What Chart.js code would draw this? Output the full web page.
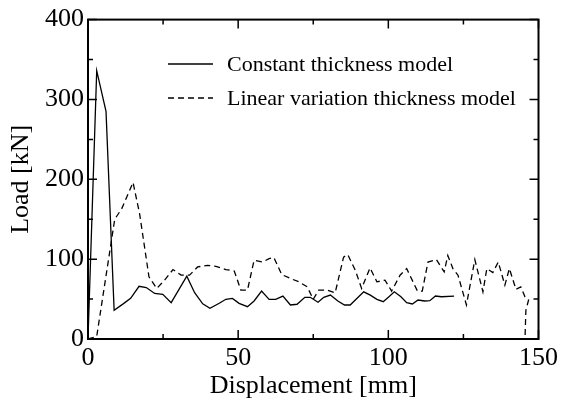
<!DOCTYPE html>
<html>
<head>
<meta charset="utf-8">
<script src="https://cdn.jsdelivr.net/npm/chart.js@4.4.0/dist/chart.umd.min.js"></script>
<style>
  body { margin: 0; background: #fff; }
  #wrap { width: 562px; height: 407px; }
</style>
</head>
<body>
<div id="wrap"><canvas id="myChart" width="562" height="407"></canvas></div>
<script>
// data
const constX = [0, 2.9, 6.0, 8.7, 11.7, 14.2, 17.0, 19.4, 22.2, 24.9, 27.7, 32.9, 35.5, 38.2, 40.6, 43.7, 45.9, 48.1, 50.3, 53.1, 55.3, 57.8, 60.3, 62.5, 64.9, 67.4, 69.6, 72.2, 74.0, 76.6, 78.5, 80.7, 83.2, 85.4, 87.3, 89.6, 91.8, 94.0, 96.2, 98.3, 100.2, 102.0, 104.2, 106.1, 108.0, 109.9, 112.1, 113.8, 115.7, 117.7, 121.9];
const constY = [0, 336, 285, 36, 44, 51, 66, 64.5, 57, 56, 45.5, 78.6, 58, 44, 38.5, 44.7, 49.7, 50.9, 44.7, 40.5, 47.6, 60, 49.7, 49.7, 53.8, 42.6, 43.5, 52.2, 52.2, 46, 52.2, 55, 47.6, 42.6, 42.6, 51, 59.1, 55, 49.7, 46.7, 52.9, 59.1, 52.9, 45.5, 43.9, 48.8, 47.6, 48, 53.8, 52.9, 53.8];

const linX = [0, 2.9, 8.9, 11.2, 15.0, 17.2, 20.3, 22.9, 25.5, 28.3, 31.0, 33.8, 36.5, 39.8, 42.6, 45.9, 48.7, 50.9, 53.1, 55.3, 58.1, 60.3, 61.9, 64.5, 67.4, 70.2, 73.0, 75.0, 76.8, 79.6, 82.3, 85.1, 86.5, 89.0, 91.1, 93.9, 96.2, 98.9, 101.1, 103.9, 106.1, 109.7, 111.3, 113.2, 116.0, 118.6, 119.8, 121.5, 123.2, 126.0, 128.8, 131.5, 132.8, 134.8, 136.6, 138.8, 140.3, 142.5, 144.1, 145.5, 146.7, 145.8, 145.5];
const linY = [0, 3.3, 150, 163, 196, 156.5, 77.8, 63.3, 73.7, 87, 80, 80, 90.2, 92.3, 91, 87, 85.2, 61.2, 61.2, 98.5, 96.4, 100.6, 102, 80.7, 75.8, 71.6, 65.3, 49.7, 61.2, 61.2, 57.9, 102.6, 105.6, 86.1, 63.4, 89, 71.6, 73.7, 60, 79.9, 88.2, 60, 60, 96.4, 99.4, 84, 104.7, 88.2, 79.9, 42.6, 99.4, 59.1, 88.2, 83.2, 96.4, 67.5, 88.2, 62.1, 65.3, 52.9, 48.8, 36, 0];

const xTicks = [0, 50, 100, 150];
const yTicks = [0, 100, 200, 300, 400];

const serif = "'Liberation Serif', 'Times New Roman', serif";

function pts(xs, ys) {
  return xs.map((x, i) => ({ x: x, y: ys[i] }));
}

// frame, inner ticks and the legend box
const framePlugin = {
  id: 'frame',
  afterDraw(chart) {
    const ctx = chart.ctx;
    const a = chart.chartArea;
    const sx = chart.scales.x, sy = chart.scales.y;
    ctx.save();
    ctx.strokeStyle = '#000';
    ctx.lineWidth = 2;
    ctx.strokeRect(a.left, a.top, a.right - a.left, a.bottom - a.top);
    ctx.lineWidth = 1.5;
    ctx.beginPath();
    for (let v = 0; v <= 150; v += 25) {
      const px = sx.getPixelForValue(v);
      const len = v % 50 === 0 ? 9 : 5;
      ctx.moveTo(px, a.bottom); ctx.lineTo(px, a.bottom - len);
      ctx.moveTo(px, a.top); ctx.lineTo(px, a.top + len);
    }
    for (let v = 0; v <= 400; v += 50) {
      const py = sy.getPixelForValue(v);
      const len = v % 100 === 0 ? 9 : 5;
      ctx.moveTo(a.left, py); ctx.lineTo(a.left + len, py);
      ctx.moveTo(a.right, py); ctx.lineTo(a.right - len, py);
    }
    ctx.stroke();

    // legend
    ctx.font = '22px ' + serif;
    ctx.fillStyle = '#000';
    ctx.textBaseline = 'middle';
    const rows = [64, 98];
    chart.data.datasets.forEach((ds, i) => {
      ctx.beginPath();
      ctx.lineWidth = 1.3;
      ctx.setLineDash(ds.borderDash || []);
      ctx.moveTo(168, rows[i]); ctx.lineTo(213, rows[i]);
      ctx.stroke();
      ctx.setLineDash([]);
      ctx.fillText(ds.label, 227, rows[i] + 1);
    });
    ctx.restore();
  }
};

const ctx = document.getElementById('myChart').getContext('2d');
const chart = new Chart(ctx, {
  type: 'scatter',
  data: {
    datasets: [{
      label: 'Constant thickness model',
      data: pts(constX, constY),
      showLine: true,
      borderColor: '#000',
      borderWidth: 1.3,
      pointRadius: 0,
      tension: 0
    }, {
      label: 'Linear variation thickness model',
      data: pts(linX, linY),
      showLine: true,
      borderColor: '#000',
      borderWidth: 1.3,
      borderDash: [6, 4],
      pointRadius: 0,
      tension: 0
    }]
  },
  options: {
    responsive: false,
    animation: false,
    layout: { padding: { top: 17, right: 22, left: 0, bottom: 0 } },
    plugins: { legend: { display: false }, tooltip: { enabled: false } },
    scales: {
      x: {
        type: 'linear', min: 0, max: 150,
        afterFit: s => { s.height = 68; },
        afterBuildTicks: s => { s.ticks = xTicks.map(v => ({ value: v })); },
        grid: { display: false, drawTicks: false },
        border: { display: false },
        ticks: { color: '#000', padding: 4, maxRotation: 0, font: { family: serif, size: 26 } },
        title: { display: true, text: 'Displacement [mm]', color: '#000', padding: { top: 0, bottom: 5 }, font: { family: serif, size: 26 } }
      },
      y: {
        type: 'linear', min: 0, max: 400,
        afterFit: s => { s.width = 88; },
        afterBuildTicks: s => { s.ticks = yTicks.map(v => ({ value: v })); },
        grid: { display: false, drawTicks: false },
        border: { display: false },
        ticks: { color: '#000', padding: 4, font: { family: serif, size: 26 } },
        title: { display: true, text: 'Load [kN]', color: '#000', padding: { top: 6, bottom: 0 }, font: { family: serif, size: 26 } }
      }
    }
  },
  plugins: [framePlugin]
});
</script>
</body>
</html>
